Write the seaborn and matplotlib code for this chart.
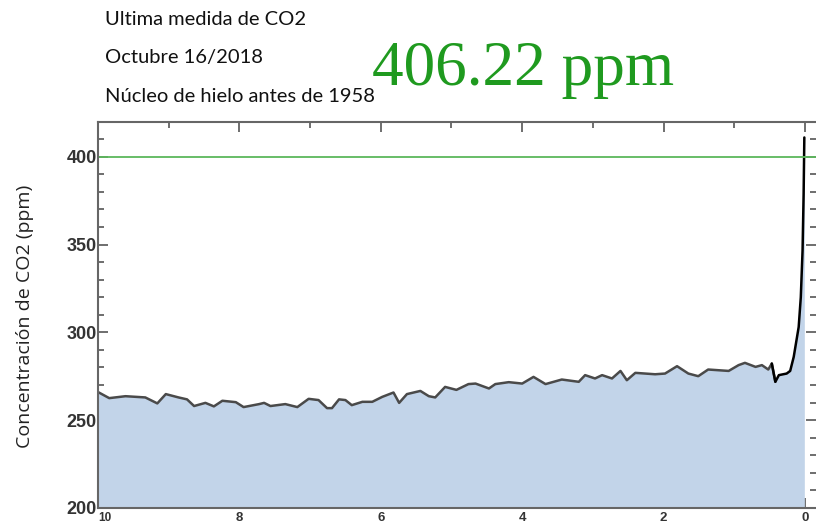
import numpy as np
import pandas as pd
import matplotlib.pyplot as plt
import seaborn as sns
from matplotlib.ticker import MultipleLocator
from matplotlib.transforms import blended_transform_factory

# CO2 (ppm) vs miles de años antes del presente
kyr = [10.0, 9.84, 9.61, 9.33, 9.16, 9.04, 8.86, 8.74, 8.64, 8.48, 8.36, 8.24,
       8.05, 7.94, 7.72, 7.65, 7.56, 7.35, 7.18, 7.02, 6.88, 6.76, 6.69, 6.59,
       6.50, 6.41, 6.26, 6.12, 5.98, 5.82, 5.74, 5.63, 5.44, 5.32, 5.23, 5.09,
       4.93, 4.76, 4.66, 4.47, 4.38, 4.19, 4.00, 3.84, 3.67, 3.44, 3.20, 3.11,
       2.97, 2.87, 2.73, 2.61, 2.52, 2.40, 2.12, 1.98, 1.81, 1.65, 1.51, 1.37,
       1.08, 0.94, 0.85, 0.70, 0.61, 0.52, 0.47, 0.42, 0.37, 0.26, 0.21, 0.16,
       0.09, 0.06, 0.035, 0.02, 0.01]
co2 = [266.0, 262.5, 263.6, 262.9, 259.5, 264.8, 262.9, 261.8, 258.0, 259.8,
       257.8, 261.0, 260.2, 257.4, 259.1, 259.8, 258.0, 259.1, 257.4, 262.1,
       261.4, 256.8, 256.8, 261.8, 261.4, 258.5, 260.4, 260.4, 263.2, 265.7,
       259.8, 264.8, 266.6, 263.6, 262.9, 268.9, 267.2, 270.5, 270.8, 268.0,
       270.5, 271.6, 270.8, 274.6, 270.5, 273.1, 271.8, 275.6, 273.7, 275.6,
       273.7, 278.0, 272.7, 276.9, 276.1, 276.5, 280.7, 276.5, 275.0, 278.8,
       278.0, 281.3, 282.6, 280.3, 281.3, 278.8, 282.2, 271.8, 275.6, 276.5,
       278.0, 286.0, 303.0, 320.0, 346.6, 378.8, 411.0]

x_ticks = [10, 8, 6, 4, 2, 0]
ultima = "406.22 ppm"
referencia = 400

df = pd.DataFrame({"kyr": kyr, "co2": co2})

sns.set_theme(style="ticks")
plt.rcParams["font.family"] = ["Lato", "DejaVu Sans"]

fig = plt.figure(figsize=(8.16, 5.29), dpi=100)
ax = fig.add_axes([0.120, 0.040, 0.880, 0.730])

ax.fill_between(df["kyr"], 200, df["co2"], color="#c2d4e9", lw=0)
sns.lineplot(data=df[df["kyr"] >= 0.4], x="kyr", y="co2", ax=ax,
             color="#4a4a4a", lw=1.8)
sns.lineplot(data=df[df["kyr"] <= 0.47], x="kyr", y="co2", ax=ax,
             color="black", lw=1.8)
ax.axhline(referencia, color="#5cb85c", lw=1.3)

ax.set_xlim(10, -0.155)
ax.set_ylim(200, 420)
ax.set_xlabel("")
ax.set_ylabel("")

# the first label ("10") sits to the right of its tick, below "200"
ax.set_xticks(x_ticks, [""] + [str(t) for t in x_ticks[1:]])
ax.xaxis.set_minor_locator(MultipleLocator(1))
ax.yaxis.set_major_locator(MultipleLocator(50))
ax.yaxis.set_minor_locator(MultipleLocator(10))
ax.tick_params(which="both", direction="in", top=True, right=True,
               color="#555555", width=1.2)
ax.tick_params(which="major", length=7)
ax.tick_params(which="minor", length=4)
ax.tick_params(axis="x", which="both", top=True, labelsize=9.5, pad=3)
ax.tick_params(axis="y", labelsize=13, pad=1)
for lab in ax.get_xticklabels() + ax.get_yticklabels():
    lab.set_family("Liberation Sans")
    lab.set_fontweight("bold")
    lab.set_color("#333333")
trans = blended_transform_factory(ax.transData, ax.transAxes)
ax.text(x_ticks[0], -0.012, str(x_ticks[0]), transform=trans, ha="left", va="top",
        fontsize=8.5, fontweight="bold", color="#333333", family="Liberation Sans")
for s in ["left", "bottom", "top"]:
    ax.spines[s].set_color("#666666")
    ax.spines[s].set_linewidth(1.5)
ax.spines["right"].set_visible(False)

fig.text(0.031, 0.401, "Concentración de CO2 (ppm)", rotation=90, fontsize=14,
         ha="center", va="center", color="#222222", family=["Open Sans", "DejaVu Sans"])

fig.text(0.129, 0.953, "Ultima medida de CO2", fontsize=14.5, va="baseline", color="#111111")
fig.text(0.129, 0.881, "Octubre 16/2018", fontsize=14.5, va="baseline", color="#111111")
fig.text(0.129, 0.807, "Núcleo de hielo antes de 1958", fontsize=14.5, va="baseline", color="#111111")
fig.text(0.456, 0.839, ultima, fontsize=45.5, va="baseline", color="#1f9a1f",
         family="Liberation Serif")

fig.savefig("out.png", dpi=100)
